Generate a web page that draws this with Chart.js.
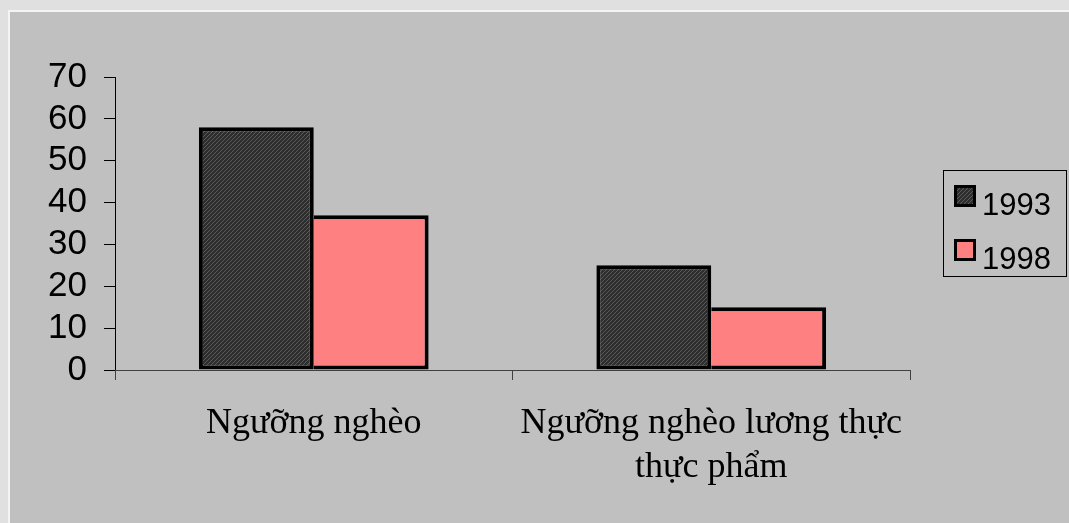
<!DOCTYPE html>
<html>
<head>
<meta charset="utf-8">
<script src="https://cdn.jsdelivr.net/npm/chart.js@4/dist/chart.umd.min.js"></script>
<style>
    html, body { margin: 0; padding: 0; background: #e0e0e0; }
    #frame {
        position: absolute; left: 8px; top: 10px; width: 1061px; height: 513px;
        background: #c0c0c0; border-top: 2px solid #f4f4f4; border-left: 2px solid #f4f4f4;
        box-sizing: border-box;
    }
    #wrap { position: absolute; left: 0; top: 0; width: 1069px; height: 523px; }
</style>
</head>
<body>
<div id="frame"></div>
<div id="wrap"><canvas id="povertyChart"></canvas></div>
<script>
// ── data ─────────────────────────────────────────────────────
const categories = ['Ngưỡng nghèo', ['Ngưỡng nghèo lương thực', 'thực phẩm']];
const seriesLabels = ['1993', '1998'];
const values1993 = [58, 25];
const values1998 = [37, 15];
const yMin = 0, yMax = 70, yStep = 10;

// dark hatch fill for 1993
function hatchPattern() {
    const c = document.createElement('canvas');
    c.width = 4; c.height = 4;
    const g = c.getContext('2d');
    g.fillStyle = '#2e2e2e';
    g.fillRect(0, 0, 4, 4);
    g.fillStyle = '#5a5a5a';
    for (let i = 0; i < 4; i++) g.fillRect(i, 3 - i, 1, 1);
    return g.createPattern(c, 'repeat');
}

// framed legend at the right, built from the datasets
const boxLegend = {
    id: 'boxLegend',
    afterDraw(chart) {
        const ctx = chart.ctx;
        const x0 = chart.chartArea.right + 33, y0 = 170;
        ctx.save();
        ctx.strokeStyle = '#000';
        ctx.lineWidth = 1;
        ctx.strokeRect(x0 + 0.5, y0 + 0.5, 123, 106);
        ctx.font = '31px "Liberation Sans", Arial, sans-serif';
        ctx.textBaseline = 'alphabetic';
        chart.data.datasets.forEach((ds, i) => {
            const by = y0 + 15 + i * 54;
            ctx.fillStyle = '#000';
            ctx.fillRect(x0 + 11, by, 22, 22);
            ctx.fillStyle = ds.backgroundColor;
            ctx.fillRect(x0 + 14, by + 3, 16, 16);
            ctx.fillStyle = '#000';
            ctx.fillText(ds.label, x0 + 39, by + 30);
        });
        ctx.restore();
    },
};

const ctx = document.getElementById('povertyChart').getContext('2d');
new Chart(ctx, {
    type: 'bar',
    data: {
        labels: categories,
        datasets: [
            {
                label: seriesLabels[0], data: values1993,
                backgroundColor: hatchPattern(), borderColor: '#000',
                borderWidth: { top: 4, left: 4, right: 4, bottom: 4 }, borderSkipped: false,
                categoryPercentage: 0.578, barPercentage: 1,
            },
            {
                label: seriesLabels[1], data: values1998,
                backgroundColor: '#ff8080', borderColor: '#000',
                borderWidth: { top: 4, left: 0, right: 4, bottom: 4 }, borderSkipped: false,
                categoryPercentage: 0.578, barPercentage: 1,
            },
        ],
    },
    options: {
        responsive: true, maintainAspectRatio: false, animation: false,
        layout: { padding: { top: 77, left: 0, right: 159, bottom: 0 } },
        plugins: { legend: { display: false }, tooltip: { enabled: false } },
        scales: {
            y: {
                min: yMin, max: yMax,
                afterFit: s => { s.width = 115; },
                ticks: {
                    stepSize: yStep, color: '#000', padding: 17, autoSkip: false,
                    font: { family: '"Liberation Sans", Arial, sans-serif', size: 35 },
                },
                grid: { drawOnChartArea: false, tickLength: 11, color: '#000', lineWidth: 1 },
                border: { display: true, color: '#000', width: 1 },
            },
            x: {
                afterFit: s => { s.height = 153; },
                ticks: {
                    color: '#000', padding: 22, maxRotation: 0, autoSkip: false,
                    font: { family: '"Liberation Serif", "Times New Roman", serif', size: 36, lineHeight: 44 / 36 },
                },
                grid: { drawOnChartArea: false, tickLength: 10, color: '#404040', lineWidth: 1 },
                border: { display: true, color: '#404040', width: 1 },
            },
        },
    },
    plugins: [boxLegend],
});
</script>
</body>
</html>
